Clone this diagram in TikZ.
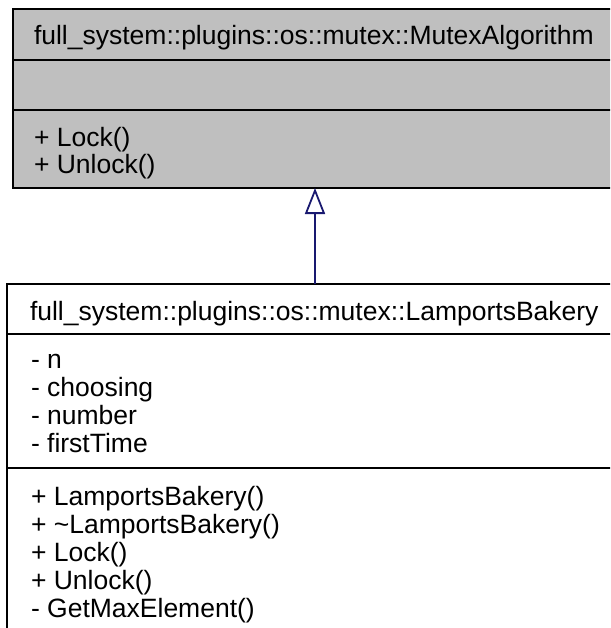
\documentclass[tikz,border=0pt]{standalone}
\usepackage{fontspec}
\setmainfont{Liberation Sans}
\usetikzlibrary{arrows.meta}
\definecolor{boxgray}{HTML}{BFBFBF}
\definecolor{edgeblue}{HTML}{191970}
\tikzset{
  classbox/.style={draw=black, line width=2pt, rectangle, inner sep=0pt, outer sep=0pt, anchor=north west},
  sepline/.style={draw=black, line width=2pt},
  member/.style={anchor=base west, inner sep=0pt, outer sep=0pt, font=\fontsize{26.5}{28}\selectfont},
  inh/.style={draw=edgeblue, line width=1.8pt, -{Triangle[length=26pt, width=20pt, fill=white, line width=1.8pt]}}
}
\begin{document}
\begin{tikzpicture}[x=1pt, y=-1pt]
\useasboundingbox (0,0) rectangle (610,628);
\clip (0,0) rectangle (610,628);
\fill[white] (0,0) rectangle (610,628);
% top class
\node[classbox, fill=boxgray, minimum width=604pt, minimum height=179pt] (mutexalg) at (13,9) {};
\draw[sepline] (mutexalg.west |- 0,60) -- (mutexalg.east |- 0,60);
\draw[sepline] (mutexalg.west |- 0,110) -- (mutexalg.east |- 0,110);
\node[member] (t1) at (34,45) {full\_system::plugins::os::mutex::MutexAlgorithm};
\node[member] (t2) at (34,147) {+ Lock()};
\node[member] (t3) at (34,174) {+ Unlock()};
% bottom class
\node[classbox, fill=white, minimum width=614pt, minimum height=380pt] (bakery) at (7,284) {};
\draw[sepline] (bakery.west |- 0,334) -- (bakery.east |- 0,334);
\draw[sepline] (bakery.west |- 0,468) -- (bakery.east |- 0,468);
\node[member] (b0) at (30,320) {full\_system::plugins::os::mutex::LamportsBakery};
\node[member] (a1) at (31,368) {- n};
\node[member] (a2) at (31,396) {- choosing};
\node[member] (a3) at (31,424) {- number};
\node[member] (a4) at (31,452) {- firstTime};
\node[member] (m1) at (31,505) {+ LamportsBakery()};
\node[member] (m2) at (31,533) {+ \textasciitilde LamportsBakery()};
\node[member] (m3) at (31,561) {+ Lock()};
\node[member] (m4) at (31,589) {+ Unlock()};
\node[member] (m5) at (31,617) {- GetMaxElement()};
% inheritance
\coordinate (ax) at (315,0);
\draw[inh] (bakery.north -| ax) -- (mutexalg.south -| ax);
\end{tikzpicture}
\end{document}
